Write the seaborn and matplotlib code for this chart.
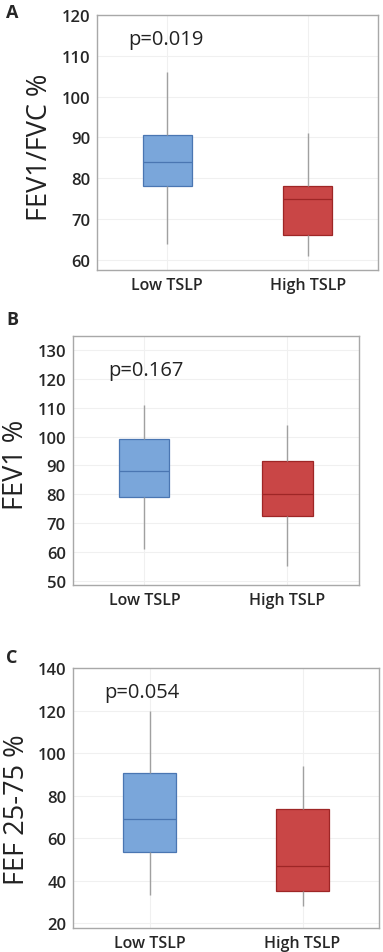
import numpy as np
import matplotlib
matplotlib.use("Agg")
import matplotlib.pyplot as plt
import pandas as pd
import seaborn as sns

# five-number summaries: low whisker, Q1, median, Q3, high whisker
groups = ["Low TSLP", "High TSLP"]

fev1_fvc_low = [64, 78, 84, 90.5, 106]
fev1_fvc_high = [61, 66, 75, 78, 91]

fev1_low = [61, 79, 88, 99, 111]
fev1_high = [55, 72.5, 80, 91.5, 104]

fef_low = [33, 53.5, 69, 90.5, 120]
fef_high = [28, 35, 47, 73.5, 94]

panels = ["A", "B", "C"]
ylabels = ["FEV1/FVC %", "FEV1 %", "FEF 25-75 %"]
pvalues = ["p=0.019", "p=0.167", "p=0.054"]
yticks = [np.arange(60, 121, 10), np.arange(50, 131, 10), np.arange(20, 141, 20)]

sns.set_style("white")
plt.rcParams["font.family"] = ["Open Sans", "DejaVu Sans"]

fill = {"Low TSLP": "#7aa6da", "High TSLP": "#c94646"}
edge = {"Low TSLP": "#4a76b2", "High TSLP": "#9e2626"}

fig = plt.figure(figsize=(3.83, 9.53), dpi=100)
axes_pos = [
    [0.253, 0.7156, 0.734, 0.2676],
    [0.190, 0.3851, 0.7475, 0.2616],
    [0.1914, 0.0249, 0.798, 0.2728],
]
ylims = [(57.5, 120), (48.5, 135), (17.5, 140)]
ptext_xy = [(-0.28, 114), (-0.25, 123), (-0.30, 128.8)]
label_xy = [(-0.153, 0.484), (-0.148, 0.485), (-0.14, 0.459)]
letter_y = [13, 320, 658]

series = [(fev1_fvc_low, fev1_fvc_high), (fev1_low, fev1_high), (fef_low, fef_high)]

for i, (lo, hi) in enumerate(series):
    ax = fig.add_axes(axes_pos[i])
    df = pd.DataFrame({
        "group": ["Low TSLP"] * len(lo) + ["High TSLP"] * len(hi),
        "value": lo + hi,
    })
    ax.set_axisbelow(True)
    for g in groups:
        sns.boxplot(data=df[df["group"] == g], x="group", y="value", order=groups,
                    color=fill[g], linecolor=edge[g], saturation=1, width=0.35,
                    whis=(0, 100), showcaps=False, linewidth=0.9,
                    whiskerprops={"color": "#a0a0a0", "linewidth": 1.0},
                    ax=ax)
    ax.set_ylim(*ylims[i])
    ax.set_xlim(-0.5, 1.5)
    ax.set_yticks(yticks[i])
    ax.grid(True, color="#f0f0f0", linewidth=0.8)
    for s in ax.spines.values():
        s.set_color("#a8a8a8")
        s.set_linewidth(1.0)
    ax.tick_params(axis="y", labelsize=12, length=3, color="#555555", pad=2)
    ax.tick_params(axis="x", labelsize=11.5, length=3, color="#555555", pad=2)
    for t in ax.get_yticklabels() + ax.get_xticklabels():
        t.set_fontweight("semibold")
    ax.set_xlabel("")
    ax.set_ylabel(ylabels[i], fontsize=19.5, color="#222222")
    ax.yaxis.set_label_coords(*label_xy[i])
    ax.text(ptext_xy[i][0], ptext_xy[i][1], pvalues[i], fontsize=14.5,
            ha="left", va="center", color="#222222")
    fig.text(6 / 383, 1 - letter_y[i] / 953, panels[i], fontsize=13,
             fontweight="bold", ha="left", va="center")

fig.savefig("out.png", dpi=100)
